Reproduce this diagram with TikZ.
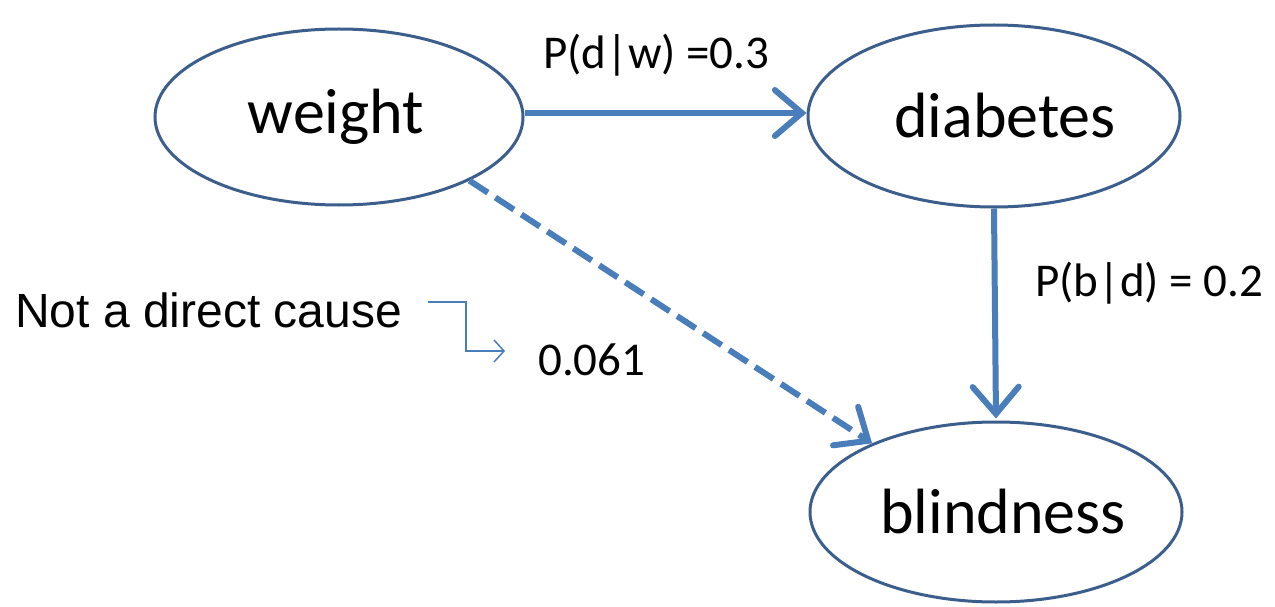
\documentclass[tikz,border=0pt]{standalone}
\usepackage{fontspec}
\setmainfont{Carlito}
\newfontfamily\arialfont{Liberation Sans}
\usetikzlibrary{shapes.geometric,arrows.meta}
\definecolor{ellborder}{HTML}{3B5E8C}
\definecolor{arrblue}{HTML}{4A7EBB}
\tikzset{
  state/.style={ellipse, draw=ellborder, line width=3pt, fill=white, inner sep=0pt, font=\fontsize{64}{66}\selectfont},
  bigarrow/.style={draw=arrblue, line width=6pt, -{Straight Barb[length=27pt, width=46pt, line width=6pt, line cap=round]}},
  lbl/.style={font=\fontsize{47}{50}\selectfont, inner sep=0pt},
}
\begin{document}
\begin{tikzpicture}[x=1pt, y=-1pt]
\useasboundingbox (0,0) rectangle (1275,607);
\node[state, minimum width=368pt, minimum height=176pt] (weight) at (339,117) {\hspace*{-6pt}weight};
\node[state, minimum width=372pt, minimum height=182pt] (diabetes) at (994,116) {\hspace*{22pt}diabetes};
\node[state, minimum width=372pt, minimum height=180pt] (blindness) at (996,512) {\hspace*{14pt}blindness};

\draw[bigarrow] ([yshift=4pt]weight.east) -- ([yshift=3pt]diabetes.west);
\draw[bigarrow] (diabetes.south) -- ([yshift=2pt]blindness.north);
\draw[bigarrow, dash pattern=on 22pt off 9pt] (weight.-26) -- (blindness.151);

\node[lbl, anchor=west] (pdw) at (543,55) {P(d|w) =0.3};
\node[lbl, anchor=west] (pbd) at (1035,283) {P(b|d) = 0.2};
\node[lbl, anchor=west] (val) at (538,360) {0.061};
\node[font=\arialfont\fontsize{48}{52}\selectfont, anchor=west, inner sep=0pt] (note) at (15,310) {Not a direct cause};

\coordinate (c1) at (428,302);
\coordinate (c3) at (505,351);
\draw[arrblue, line width=1.5pt, -{Straight Barb[length=10pt, width=22pt, line width=1.5pt]}] (c1) -- (466,302) |- (c3);
\end{tikzpicture}
\end{document}
